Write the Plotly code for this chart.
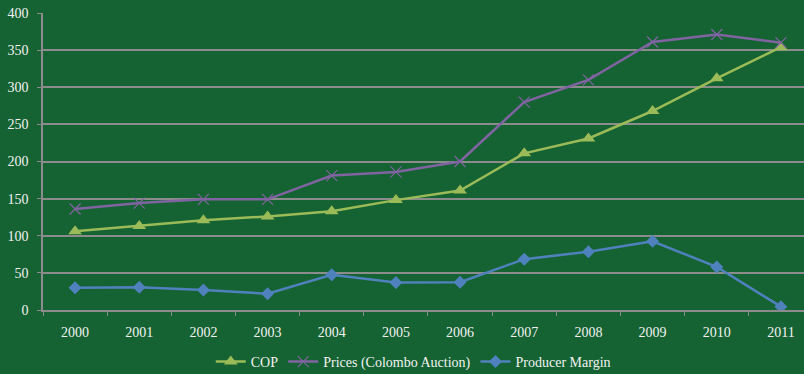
import plotly.graph_objects as go

years = ["2000", "2001", "2002", "2003", "2004", "2005", "2006", "2007", "2008", "2009", "2010", "2011"]
cop = [106, 113, 121, 126, 133, 148, 161, 211, 231, 268, 312, 354]
prices = [136, 144, 149, 149, 181, 186, 200, 280, 310, 361, 371, 360]
margin = [30, 30.5, 27, 22, 47.5, 37, 37.5, 68.5, 78.5, 92.5, 58, 4.5]

bg = "#156332"
grid = "#8c8c8c"
txt = "#f2f2f2"
font = "Liberation Serif, Times New Roman, serif"

fig = go.Figure()
fig.add_trace(go.Scatter(x=years, y=cop, name="COP", mode="lines+markers",
                         line=dict(color="#9BBB59", width=2.5),
                         marker=dict(symbol="triangle-up", size=12, color="#9BBB59")))
fig.add_trace(go.Scatter(x=years, y=prices, name="Prices (Colombo Auction)", mode="lines+markers",
                         line=dict(color="#8064A2", width=2.5),
                         marker=dict(symbol="x-thin", size=11, color="#8064A2",
                                     line=dict(color="#8064A2", width=1.2))))
fig.add_trace(go.Scatter(x=years, y=margin, name="Producer Margin", mode="lines+markers",
                         line=dict(color="#4F81BD", width=2.5),
                         marker=dict(symbol="diamond", size=10, color="#4F81BD")))

fig.update_layout(
    width=804, height=374,
    paper_bgcolor=bg, plot_bgcolor=bg,
    margin=dict(l=43, r=0, t=13, b=64, autoexpand=False),
    font=dict(family=font, size=14, color=txt),
    showlegend=True,
    legend=dict(orientation="h", x=0.514, xanchor="center", xref="container",
                y=12 / 374, yanchor="middle", yref="container",
                font=dict(family=font, size=14, color=txt), itemwidth=30,
                bgcolor="rgba(0,0,0,0)"),
    xaxis=dict(type="category", range=[-0.5, 11.36], showgrid=False,
               showline=True, linecolor=grid, linewidth=1.5,
               ticks="outside", tickson="boundaries", ticklen=4, tickcolor=grid,
               ticklabelstandoff=8,
               tickfont=dict(family=font, size=14, color=txt), zeroline=False),
    yaxis=dict(range=[0, 400], dtick=50, showgrid=True, gridcolor=grid, gridwidth=1.5,
               showline=True, linecolor=grid, linewidth=1.5,
               ticks="outside", ticklen=4, tickcolor=grid,
               ticklabelstandoff=6,
               tickfont=dict(family=font, size=14, color=txt), zeroline=False),
)

fig.write_html("out.html")
